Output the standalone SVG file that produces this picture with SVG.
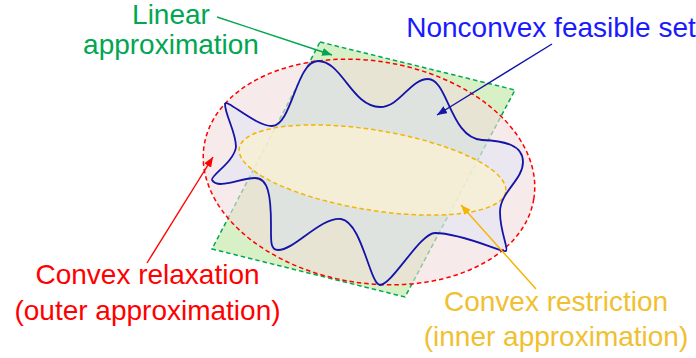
<svg xmlns="http://www.w3.org/2000/svg" width="696" height="358" viewBox="0 0 696 358">
<style>
text{font-family:'Liberation Sans',Arial,sans-serif;font-size:28px;text-anchor:middle}
.dash{stroke-dasharray:4.5 3;stroke-width:1.5;fill:none}
.arr{stroke-width:1.4;fill:none}
</style>
<defs>
<path id="blob" d="M318,61 C342,61 352,107 380,107 C400,107 410,79 428,79 C448,79 450,138 482,140 C505,141 523,145 523,162 C523,180 500,192 500,212 C500,232 509,249 506,251 C503,253 462,233 435,233 C420,233 392,285 380,285 C370,285 362,222 341,219 C320,217 295,250 278,250 C270,250 271,240 271,225 C271,195 268,178 255,178 C240,178 218,190 212,180 C210,176 234,162 236,147 C236,132 225,115 225,104 C226,98 255,126 272,126 C292,126 296,61 318,61 Z"/>
<marker id="hg" viewBox="0 0 10 8" refX="10" refY="4" markerWidth="10" markerHeight="8" markerUnits="userSpaceOnUse" orient="auto"><path d="M0,0 L10,4 L0,8 z" fill="#00a651"/></marker>
<marker id="hb" viewBox="0 0 10 8" refX="10" refY="4" markerWidth="10" markerHeight="8" markerUnits="userSpaceOnUse" orient="auto"><path d="M0,0 L10,4 L0,8 z" fill="#1414a8"/></marker>
<marker id="hr" viewBox="0 0 10 8" refX="10" refY="4" markerWidth="10" markerHeight="8" markerUnits="userSpaceOnUse" orient="auto"><path d="M0,0 L10,4 L0,8 z" fill="#ff0000"/></marker>
<marker id="hy" viewBox="0 0 10 8" refX="10" refY="4" markerWidth="10" markerHeight="8" markerUnits="userSpaceOnUse" orient="auto"><path d="M0,0 L10,4 L0,8 z" fill="#f5b400"/></marker>
</defs>
<g id="linear-approximation">
<polygon points="320,42 515,90 405,297 212,249" fill="#d8f0c6"/>
<polygon class="dash" points="320,42 515,90 405,297 212,249" stroke="#00a651"/>
</g>
<g id="convex-relaxation">
<ellipse cx="369" cy="172" rx="167" ry="111" transform="rotate(9.3 369 172)" fill="#f2dcdc" fill-opacity="0.6"/>
</g>
<g id="nonconvex-set">
<use href="#blob" fill="#cde1ff" fill-opacity="0.3"/>
</g>
<g id="convex-restriction">
<ellipse cx="372.5" cy="170" rx="135" ry="40" transform="rotate(9.3 372.5 170)" fill="#f7f0d2" fill-opacity="0.8"/>
<ellipse class="dash" cx="372.5" cy="170" rx="135" ry="40" transform="rotate(9.3 372.5 170)" stroke="#f5b400"/>
</g>
<g id="relaxation-outline">
<ellipse class="dash" cx="369" cy="172" rx="167" ry="111" transform="rotate(9.3 369 172)" stroke="#ff0000"/>
</g>
<g id="nonconvex-outline">
<use href="#blob" fill="none" stroke="#1414a8" stroke-width="1.8"/>
</g>
<g id="connectors">
<line class="arr" x1="217" y1="17" x2="332" y2="55" stroke="#00a651" marker-end="url(#hg)"/>
<line class="arr" x1="552" y1="44" x2="437" y2="115" stroke="#1414a8" marker-end="url(#hb)"/>
<line class="arr" x1="147" y1="263" x2="213" y2="157" stroke="#ff0000" marker-end="url(#hr)"/>
<line class="arr" x1="536" y1="289" x2="461" y2="205" stroke="#f5b400" marker-end="url(#hy)"/>
</g>
<g id="label-linear" fill="#00a651">
<text x="171" y="24">Linear</text>
<text x="171" y="54">approximation</text>
</g>
<g id="label-nonconvex" fill="#1a1aff">
<text x="551" y="37" font-size="25">Nonconvex feasible set</text>
</g>
<g id="label-relaxation" fill="#ff0000">
<text x="147.5" y="284">Convex relaxation</text>
<text x="147.5" y="320">(outer approximation)</text>
</g>
<g id="label-restriction" fill="#f0c030">
<text x="556" y="311">Convex restriction</text>
<text x="556" y="346">(inner approximation)</text>
</g>
</svg>
